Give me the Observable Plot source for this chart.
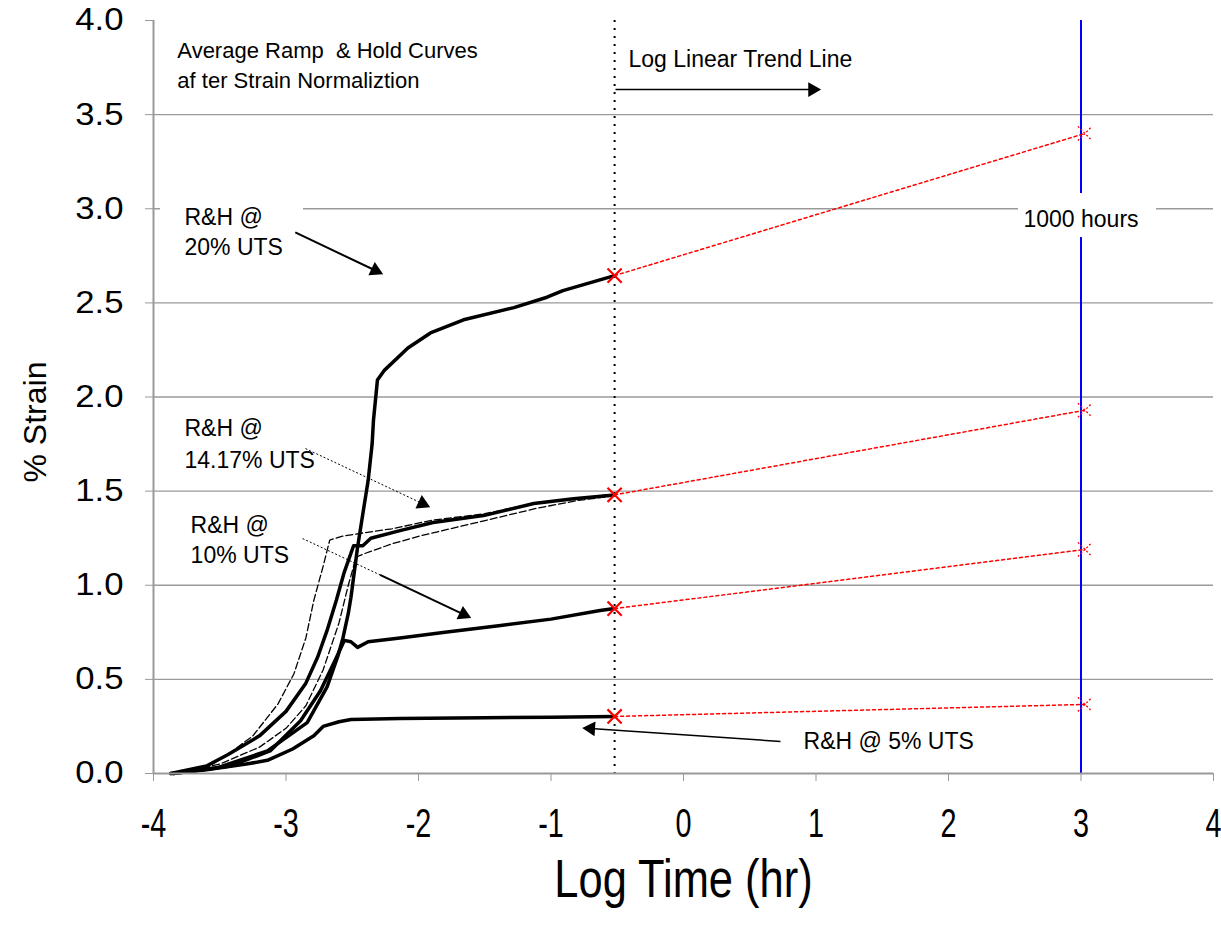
<!DOCTYPE html>
<html><head><meta charset="utf-8">
<script src="https://cdn.jsdelivr.net/npm/d3@7"></script>
<script src="https://cdn.jsdelivr.net/npm/@observablehq/plot@0.6"></script>
<style>body{margin:0;background:#fff;}</style>
</head><body><div id="chart"></div>
<script>
// ---------- data ----------
const xTicks = [-4, -3, -2, -1, 0, 1, 2, 3, 4];
const yTicks = [0, 0.5, 1, 1.5, 2, 2.5, 3, 3.5, 4];
const levels = ["20% UTS", "14.17% UTS", "10% UTS", "5% UTS"];

const logTime20 = [-3.85,-3.52,-3.14,-2.84,-2.69,-2.61,-2.57,-2.53,-2.51,-2.46,-2.42,-2.38,-2.35,-2.34,-2.31,-2.26,-2.08,-1.91,-1.66,-1.28,-1.03,-0.91,-0.52];
const strain20  = [0,0.03,0.12,0.27,0.46,0.62,0.72,0.85,0.935,1.2,1.38,1.556,1.75,1.875,2.09,2.14,2.26,2.34,2.41,2.475,2.53,2.565,2.645];

const logTime14 = [-3.87,-3.6,-3.44,-3.2,-3.0,-2.85,-2.76,-2.69,-2.62,-2.56,-2.51,-2.49,-2.42,-2.36,-2.14,-1.89,-1.51,-1.13,-0.83,-0.52];
const strain14  = [0,0.04,0.10,0.2,0.33,0.48,0.62,0.76,0.92,1.07,1.17,1.21,1.21,1.25,1.29,1.333,1.37,1.434,1.46,1.48];

const logTime10 = [-3.85,-3.42,-3.12,-2.89,-2.74,-2.63,-2.56,-2.51,-2.46,-2.38,-2.14,-1.8,-1.38,-1.0,-0.63,-0.52];
const strain10  = [0,0.04,0.12,0.28,0.44,0.6,0.707,0.70,0.67,0.70,0.72,0.75,0.786,0.82,0.866,0.876];

const logTime5 = [-3.87,-3.6,-3.3,-3.14,-2.95,-2.79,-2.72,-2.6,-2.51,-2.14,-1.5,-1.0,-0.52];
const strain5  = [0,0.02,0.05,0.07,0.13,0.2,0.25,0.275,0.287,0.292,0.296,0.299,0.303];

// replicate (thin dashed) curves in the ramp bundle
const logTimeRepA = [-3.85,-3.6,-3.44,-3.25,-3.06,-2.94,-2.85,-2.79,-2.72,-2.67,-2.58,-2.40,-2.2,-1.9,-1.5,-1.1,-0.8,-0.52];
const strainRepA  = [0,0.03,0.10,0.2,0.37,0.53,0.72,0.92,1.1,1.24,1.26,1.28,1.3,1.345,1.38,1.44,1.46,1.485];
const logTimeRepB = [-3.85,-3.5,-3.2,-3.0,-2.85,-2.72,-2.6,-2.53,-2.47,-2.40,-2.2,-2.0,-1.7,-1.4,-1.1,-0.8,-0.52];
const strainRepB  = [0,0.05,0.14,0.24,0.36,0.55,0.8,1.0,1.15,1.17,1.22,1.26,1.31,1.36,1.41,1.45,1.475];

// log-linear trend lines
const trendFromLogTime = -0.52;
const trendToLogTime = 3.03;
const trendFromStrain = [2.645, 1.48, 0.876, 0.303];
const trendToStrain   = [3.40, 1.93, 1.19, 0.367];

const logTime1000h = 3; // log10(1000 hr)

// ---------- layout ----------
const W = 1221, H = 938, mL = 153, mR = 8, mT = 20, mB = 165;
const kx = (W - mL - mR) / 8, ky = (H - mT - mB) / 4;
const FONT = "'Liberation Sans', Arial, sans-serif";

const curves = [
  {logTime: logTime20, strain: strain20, level: levels[0]},
  {logTime: logTime14, strain: strain14, level: levels[1]},
  {logTime: logTime10, strain: strain10, level: levels[2]},
  {logTime: logTime5,  strain: strain5,  level: levels[3]}
].flatMap(c => c.logTime.map((t, i) => ({x: t, y: c.strain[i], level: c.level})));

const reps = [
  {logTime: logTimeRepA, strain: strainRepA, id: "A"},
  {logTime: logTimeRepB, strain: strainRepB, id: "B"}
].flatMap(c => c.logTime.map((t, i) => ({x: t, y: c.strain[i], id: c.id})));

const trendRows = levels.flatMap((l, i) => [
  {x: trendFromLogTime, y: trendFromStrain[i], level: l},
  {x: trendToLogTime, y: trendToStrain[i], level: l}
]);
const trendStarts = levels.map((l, i) => ({x: trendFromLogTime, y: trendFromStrain[i]}));
const trendEnds = levels.map((l, i) => ({x: trendToLogTime, y: trendToStrain[i]}));

// annotation arrows (data coordinates)
const arrows = [
  {x1: -2.93, y1: 2.874, x2: -2.325, y2: 2.672, w: 2, dash: null},
  {x1: -2.853, y1: 1.726, x2: -1.97, y2: 1.434, w: 1, dash: "2,2"},
  {x1: -2.875, y1: 1.248, x2: -2.29, y2: 1.055, w: 1, dash: "2,2", nohead: true},
  {x1: -2.29, y1: 1.055, x2: -1.66, y2: 0.845, w: 2, dash: null},
  {x1: 0.732, y1: 0.17, x2: -0.70, y2: 0.239, w: 1.5, dash: null},
  {x1: -0.513, y1: 3.633, x2: 0.974, y2: 3.633, w: 1.5, dash: null}
];
const heads = arrows.filter(a => !a.nohead).map(a => ({
  x: a.x2, y: a.y2,
  rot: Math.atan2((a.x2 - a.x1) * kx, (a.y2 - a.y1) * ky) * 180 / Math.PI
}));

const labels = [
  {text: "Average Ramp  & Hold Curves\naf ter Strain Normaliztion", x: -3.82, y: 3.774, lh: 1.4, size: 22, anchor: "start"},
  {text: "Log Linear Trend Line", x: -0.415, y: 3.80, lh: 1.2, size: 23, anchor: "start"},
  {text: "R&H @\n20% UTS", x: -3.766, y: 2.884, lh: 1.3, size: 23, anchor: "start"},
  {text: "R&H @\n14.17% UTS", x: -3.766, y: 1.764, lh: 1.39, size: 23, anchor: "start"},
  {text: "R&H @\n10% UTS", x: -3.72, y: 1.248, lh: 1.3, size: 23, anchor: "start"},
  {text: "R&H @ 5% UTS", x: 0.906, y: 0.175, lh: 1.2, size: 23, anchor: "start"},
  {text: "1000 hours", x: logTime1000h, y: 2.948, lh: 1.2, size: 23, anchor: "middle"}
];
const boxes = [
  {x1: 2.528, x2: 3.57, y1: 2.847, y2: 3.081},
  {x1: -3.947, x2: -2.868, y1: 2.714, y2: 3.07}
];

const chart = Plot.plot({
  width: W, height: H,
  marginLeft: mL, marginRight: mR, marginTop: mT, marginBottom: mB,
  x: {domain: [-4, 4]},
  y: {domain: [0, 4]},
  style: {fontFamily: FONT, background: "white", color: "black", overflow: "visible"},
  marks: [
    Plot.ruleY(yTicks.filter(d => d > 0 && d < 4), {stroke: "#9a9a9a", strokeWidth: 1.4}),
    Plot.ruleX([trendFromLogTime], {stroke: "black", strokeWidth: 2, strokeDasharray: "2,6"}),
    Plot.ruleX([logTime1000h], {stroke: "#0000ff", strokeWidth: 2}),
    Plot.rect(boxes, {x1: "x1", x2: "x2", y1: "y1", y2: "y2", fill: "white"}),
    Plot.line(reps, {x: "x", y: "y", z: "id", stroke: "black", strokeWidth: 1.3, strokeDasharray: "7,3", curve: "linear"}),
    Plot.line(curves, {x: "x", y: "y", z: "level", stroke: "black", strokeWidth: 3.5, curve: "linear", strokeLinejoin: "round"}),
    Plot.line(trendRows, {x: "x", y: "y", z: "level", stroke: "#ff0000", strokeWidth: 1.5, strokeDasharray: "3,3"}),
    Plot.dot(trendStarts, {x: "x", y: "y", symbol: "times", r: 6.5, stroke: "#ff0000", strokeWidth: 2.2}),
    Plot.dot(trendEnds, {x: "x", y: "y", symbol: "times", r: 6.5, stroke: "#ff0000", strokeWidth: 1.3, strokeDasharray: "2,2"}),
    ...arrows.map(a => Plot.link([a], {x1: "x1", y1: "y1", x2: "x2", y2: "y2", stroke: "black", strokeWidth: a.w, strokeDasharray: a.dash ?? undefined})),
    Plot.dot(heads, {x: "x", y: "y", symbol: "triangle", r: 5.5, fill: "black", rotate: "rot"}),
    ...labels.map(l => Plot.text([l], {x: "x", y: "y", text: "text", textAnchor: l.anchor, lineAnchor: "middle", lineHeight: l.lh, fontSize: l.size, fill: "black"})),
    Plot.ruleY([0], {stroke: "#999", strokeWidth: 2}),
    Plot.ruleX([-4], {stroke: "#999", strokeWidth: 2}),
    Plot.axisY({ticks: yTicks, tickFormat: d3.format(".1f"), tickSize: 8, tickPadding: 22, fontSize: 31, stroke: "#999", label: null}),
    Plot.axisX({ticks: xTicks, tickFormat: d => d < 0 ? "-" + Math.abs(d) : String(d), tickSize: 8, tickPadding: 27, fontSize: 40, stroke: "#999", label: null}),
    Plot.text(["% Strain"], {frameAnchor: "left", textAnchor: "middle", lineAnchor: "middle", dx: -118, dy: 25, rotate: -90, fontSize: 32, fill: "black"}),
    Plot.text(["Log Time (hr)"], {frameAnchor: "bottom", textAnchor: "middle", lineAnchor: "middle", dy: 107, fontSize: 53, fill: "black"})
  ]
});

// horizontally condense / widen texts to match the original's stretched faces
function squeeze(sel, s) {
  sel.each(function () {
    const t = this.getAttribute("transform") || "";
    const x = +(this.getAttribute("x") || 0);
    this.setAttribute("transform", `${t} translate(${x},0) scale(${s},1) translate(${-x},0)`);
  });
}
const root = d3.select(chart);
squeeze(root.selectAll('g[aria-label="x-axis tick label"] text'), 0.72);
squeeze(root.selectAll('g[aria-label="y-axis tick label"] text'), 1.12);
squeeze(root.selectAll("text").filter(function () { return this.textContent === "Log Time (hr)"; }), 0.82);

document.getElementById("chart").appendChild(chart);
</script>
</body></html>
